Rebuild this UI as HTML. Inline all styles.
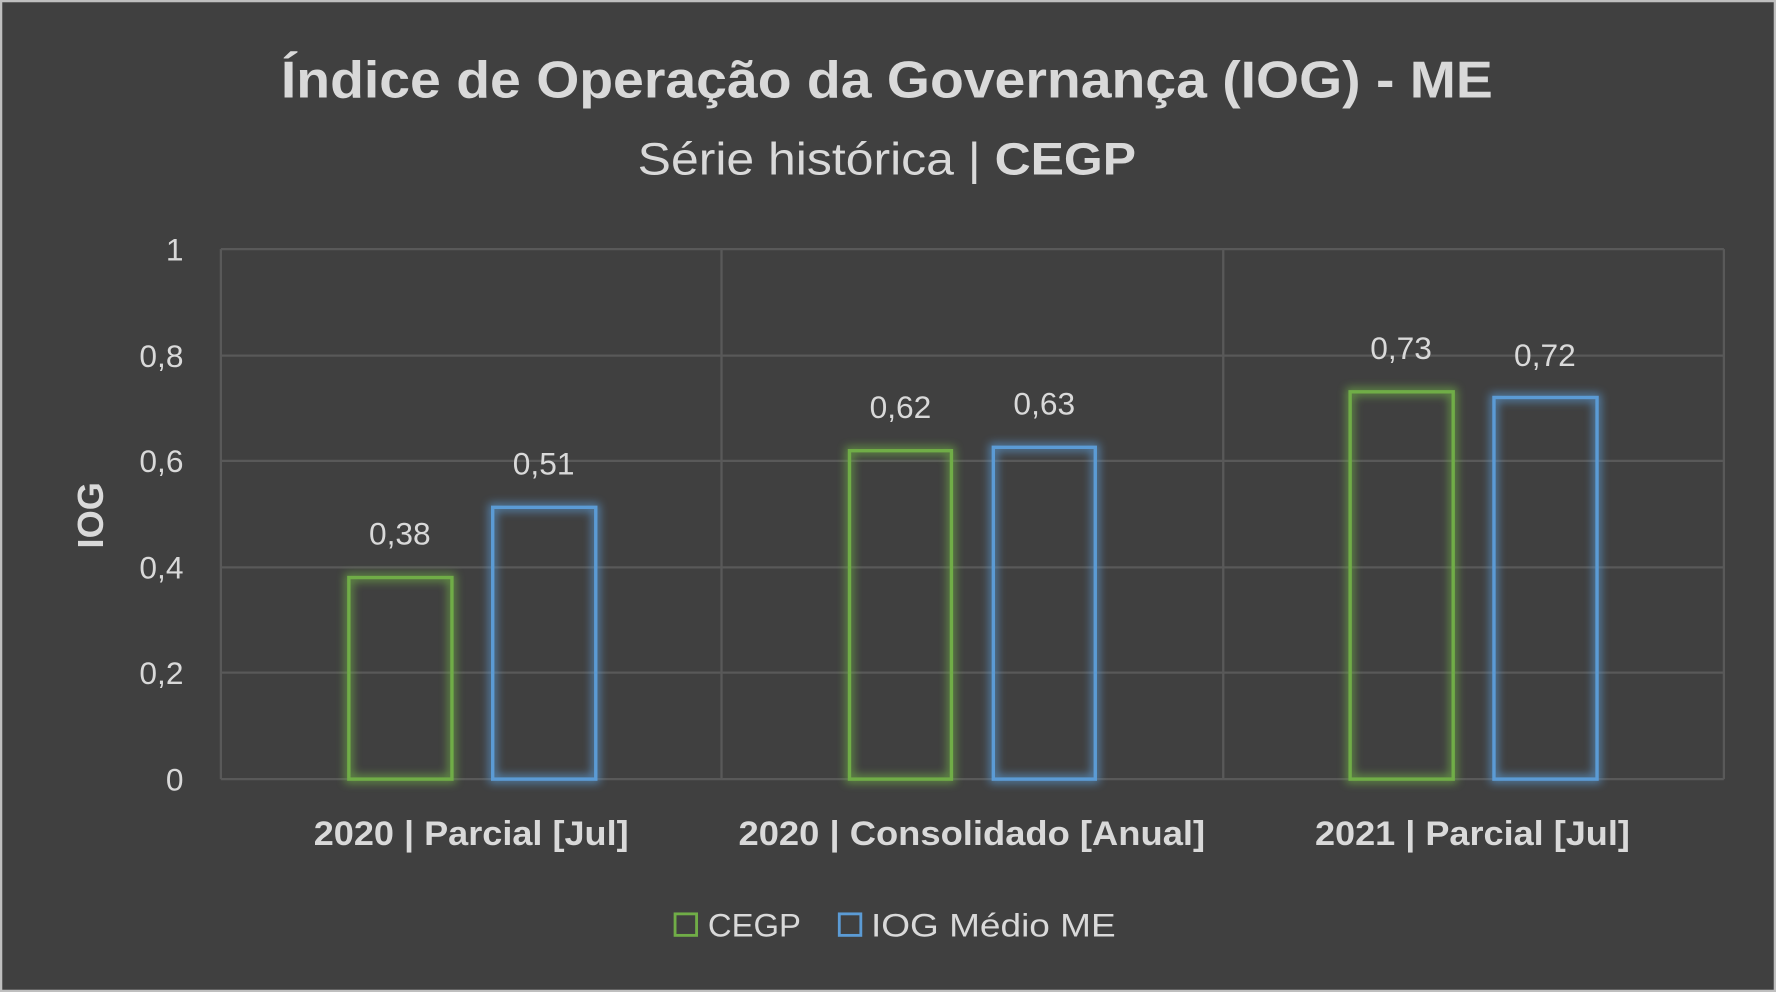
<!DOCTYPE html>
<html><head><meta charset="utf-8"><style>
html,body{margin:0;padding:0;background:#404040;}
svg{display:block;}
text{font-family:"Liberation Sans",sans-serif;fill:#d9d9d9;}
</style></head><body>
<svg width="1776" height="992" viewBox="0 0 1568 876" preserveAspectRatio="none" xmlns="http://www.w3.org/2000/svg">
<defs>
<filter id="g" x="-30%" y="-30%" width="160%" height="160%"><feGaussianBlur stdDeviation="4"/></filter>
</defs>
<rect x="0" y="0" width="1568" height="876" fill="#404040"/>
<rect x="1" y="1" width="1566" height="874" fill="none" stroke="#bfbfbf" stroke-width="2"/>
<text x="783" y="86" font-size="46" font-weight="bold" text-anchor="middle" textLength="1070" lengthAdjust="spacingAndGlyphs">Índice de Operação da Governança (IOG) - ME</text>
<text x="783" y="154" font-size="40" text-anchor="middle" textLength="440" lengthAdjust="spacingAndGlyphs">Série histórica | <tspan font-weight="bold">CEGP</tspan></text>
<g stroke="#595959" stroke-width="2">
<line x1="195" y1="220" x2="1522" y2="220"/>
<line x1="195" y1="314" x2="1522" y2="314"/>
<line x1="195" y1="407" x2="1522" y2="407"/>
<line x1="195" y1="501" x2="1522" y2="501"/>
<line x1="195" y1="594" x2="1522" y2="594"/>
<line x1="195" y1="688" x2="1522" y2="688"/>
<line x1="195" y1="220" x2="195" y2="688"/>
<line x1="637" y1="220" x2="637" y2="688"/>
<line x1="1080" y1="220" x2="1080" y2="688"/>
<line x1="1522" y1="220" x2="1522" y2="688"/>
</g>
<g font-size="28" text-anchor="end">
<text x="162" y="230">1</text>
<text x="162" y="324">0,8</text>
<text x="162" y="417">0,6</text>
<text x="162" y="511">0,4</text>
<text x="162" y="604">0,2</text>
<text x="162" y="698">0</text>
</g>
<text transform="translate(91,455) rotate(-90)" font-size="32" font-weight="bold" text-anchor="middle">IOG</text>
<g fill="none" stroke-width="7" filter="url(#g)" opacity="0.7">
<rect x="308" y="510" width="91" height="178" stroke="#70ad47"/>
<rect x="435" y="448" width="91" height="240" stroke="#5b9bd5"/>
<rect x="750" y="398" width="90" height="290" stroke="#70ad47"/>
<rect x="877" y="395" width="90" height="293" stroke="#5b9bd5"/>
<rect x="1192" y="346" width="91" height="342" stroke="#70ad47"/>
<rect x="1319" y="351" width="91" height="337" stroke="#5b9bd5"/>
</g>
<g fill="none" stroke-width="3">
<rect x="308" y="510" width="91" height="178" stroke="#70ad47"/>
<rect x="435" y="448" width="91" height="240" stroke="#5b9bd5"/>
<rect x="750" y="398" width="90" height="290" stroke="#70ad47"/>
<rect x="877" y="395" width="90" height="293" stroke="#5b9bd5"/>
<rect x="1192" y="346" width="91" height="342" stroke="#70ad47"/>
<rect x="1319" y="351" width="91" height="337" stroke="#5b9bd5"/>
</g>
<g font-size="28" text-anchor="middle">
<text x="353" y="481">0,38</text>
<text x="480" y="419">0,51</text>
<text x="795" y="369">0,62</text>
<text x="922" y="366">0,63</text>
<text x="1237" y="317">0,73</text>
<text x="1364" y="323">0,72</text>
</g>
<g font-size="30" font-weight="bold" text-anchor="middle">
<text x="416" y="746" textLength="278" lengthAdjust="spacingAndGlyphs">2020 | Parcial [Jul]</text>
<text x="858" y="746" textLength="412" lengthAdjust="spacingAndGlyphs">2020 | Consolidado [Anual]</text>
<text x="1300" y="746" textLength="278" lengthAdjust="spacingAndGlyphs">2021 | Parcial [Jul]</text>
</g>
<rect x="596" y="807" width="19" height="19" fill="none" stroke="#70ad47" stroke-width="2.5"/>
<text x="625" y="827" font-size="29">CEGP</text>
<rect x="741" y="807" width="19" height="19" fill="none" stroke="#5b9bd5" stroke-width="2.5"/>
<text x="769" y="827" font-size="29" textLength="216" lengthAdjust="spacingAndGlyphs">IOG Médio ME</text>
</svg>
</body></html>
